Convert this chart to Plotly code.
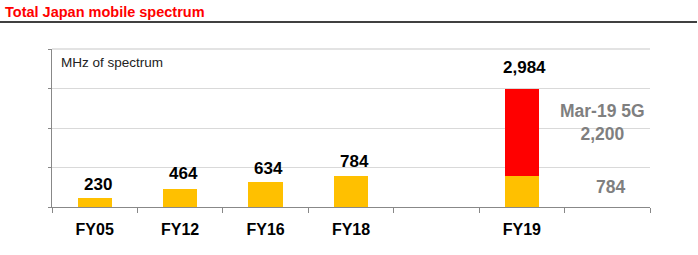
import plotly.graph_objects as go

categories = ["FY05", "FY12", "FY16", "FY18", " ", "FY19", "  "]
existing = [230, 464, 634, 784, None, 784, None]
new_5g = [None, None, None, None, None, 2200, None]
totals = [230, 464, 634, 784, None, 2984, None]
total_labels = ["230", "464", "634", "784", "", "2,984", ""]
label_gap = [2, 4, 2, 3, 0, 10, 0]

YELLOW = "#FFC000"
RED = "#FF0000"
GRAY = "#7F7F7F"

fig = go.Figure()
fig.add_bar(x=categories, y=existing, marker=dict(color=YELLOW, line_width=0), width=0.4, hoverinfo="skip")
fig.add_bar(x=categories, y=new_5g, marker=dict(color=RED, line_width=0), width=0.4, hoverinfo="skip")

ann = []
for c, t, lab, g in zip(categories, totals, total_labels, label_gap):
    if t is None:
        continue
    ann.append(dict(x=c, y=t, text="<b>%s</b>" % lab, showarrow=False, yanchor="bottom", yshift=g, xshift=3,
                    font=dict(family="Liberation Sans", size=17, color="black")))

ann.append(dict(x="  ", y=784 + 2200 / 2, text="<b>Mar-19 5G</b><br><b>2,200</b>", showarrow=False,
                xshift=-5, yshift=10, font=dict(family="Liberation Sans", size=17.5, color=GRAY)))
ann.append(dict(x="  ", y=784 / 2, text="<b>784</b>", showarrow=False, xshift=3, yshift=5,
                font=dict(family="Liberation Sans", size=17.5, color=GRAY)))
ann.append(dict(xref="paper", yref="paper", x=(3 - 52) / 598, y=(207 - 12) / 158, xanchor="left",
                yanchor="middle", text="<b>Total Japan mobile spectrum</b>", showarrow=False,
                font=dict(family="Liberation Sans", size=14.5, color=RED)))
ann.append(dict(xref="paper", yref="paper", x=(59 - 52) / 598, y=(207 - 62) / 158, xanchor="left",
                yanchor="middle", text="MHz of spectrum", showarrow=False,
                font=dict(family="Liberation Sans", size=13.5, color="#222")))

fig.update_layout(
    width=698, height=255,
    margin=dict(l=52, r=48, t=49, b=48),
    barmode="stack",
    showlegend=False,
    plot_bgcolor="white", paper_bgcolor="white",
    annotations=ann,
    shapes=[
        dict(type="line", xref="paper", yref="paper", x0=-52 / 598, x1=(697 - 52) / 598,
             y0=(207 - 22) / 158, y1=(207 - 22) / 158, line=dict(color="black", width=1.5)),
        dict(type="line", xref="paper", yref="paper", x0=0, x1=1, y0=1, y1=1,
             line=dict(color="#E3E3E3", width=2), layer="below"),
    ],
    xaxis=dict(type="category", categoryorder="array", categoryarray=categories,
               tickvals=categories, ticktext=["<b>%s</b>" % c for c in categories],
               tickson="boundaries", ticks="outside", ticklen=5, tickcolor="#888",
               ticklabelstandoff=8,
               showline=True, linecolor="#888", linewidth=1.2, showgrid=False,
               tickfont=dict(family="Liberation Sans", size=16, color="black")),
    yaxis=dict(range=[0, 4000], dtick=1000, showticklabels=False, ticks="outside", ticklen=3,
               tickcolor="#888", showline=True, linecolor="#888", linewidth=1.2,
               gridcolor="#D9D9D9", gridwidth=1, zeroline=False),
)

fig.write_html("out.html")
